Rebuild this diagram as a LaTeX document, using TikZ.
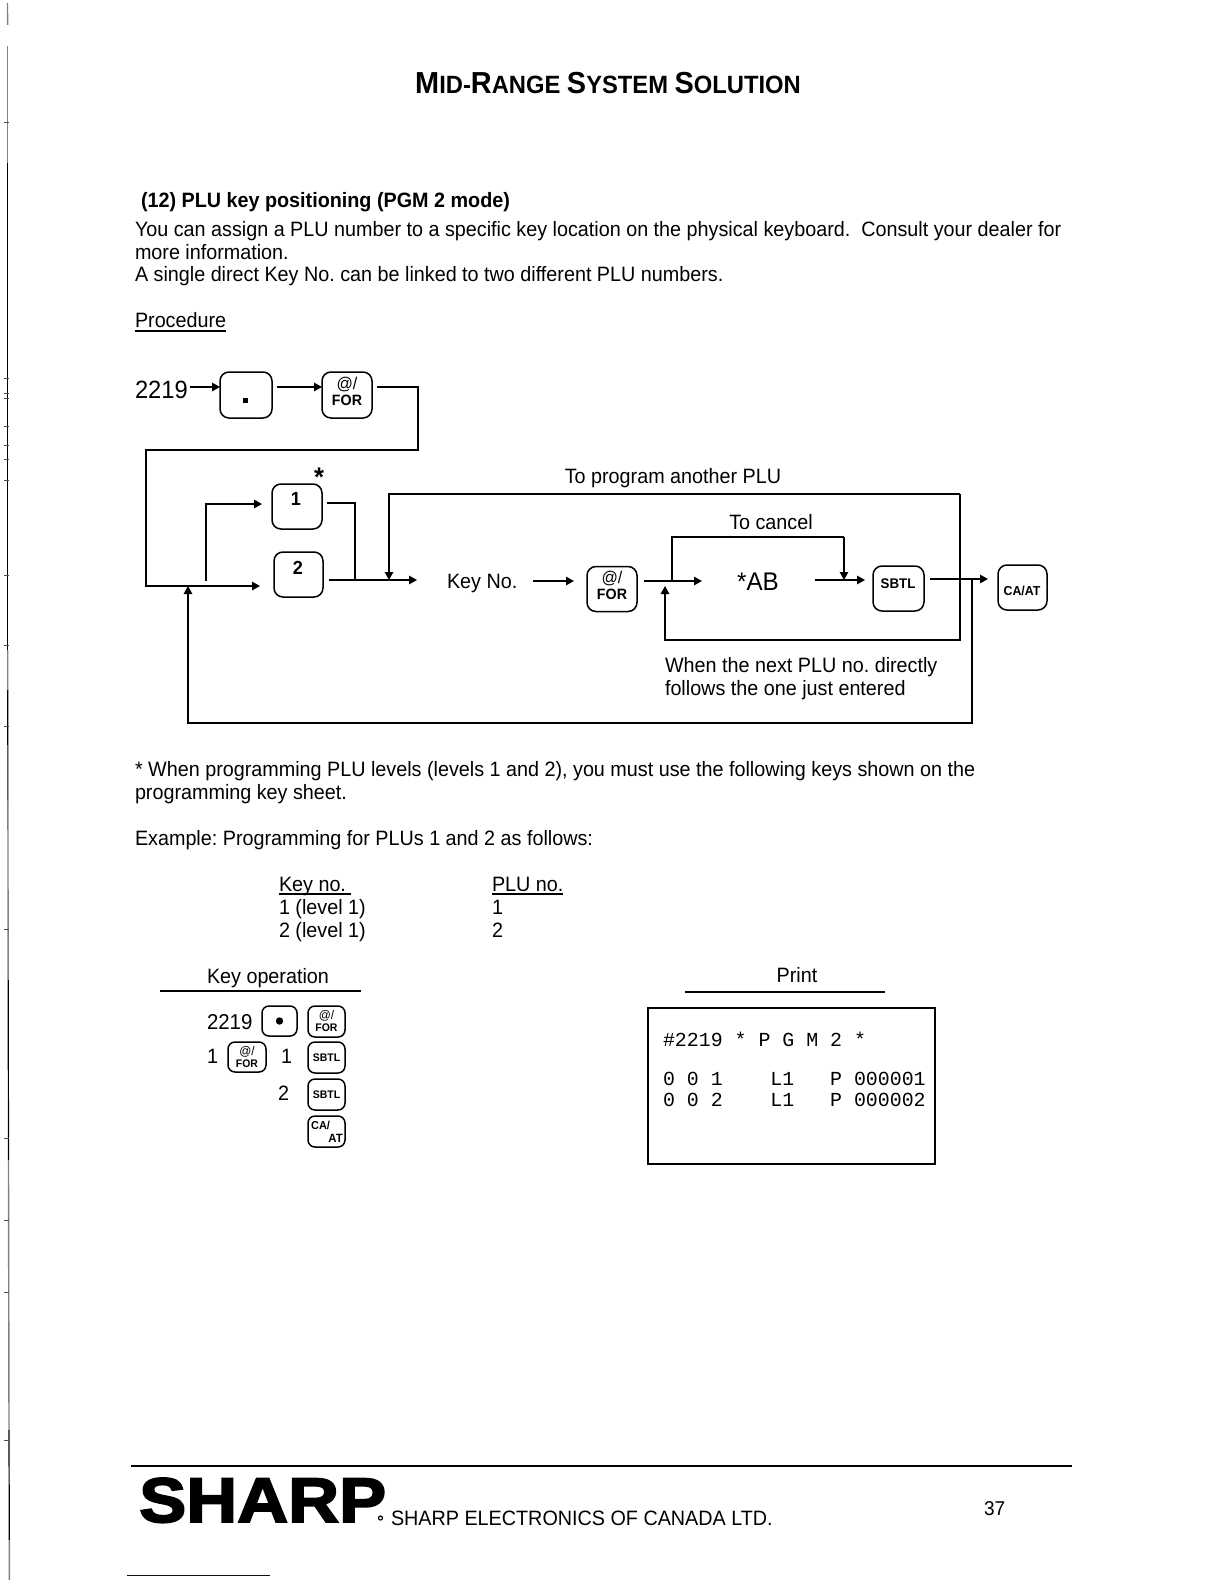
\documentclass[tikz,border=0pt]{standalone}
\usepackage{fontspec}
\setmainfont[FakeStretch=0.95]{Liberation Sans}
\newfontfamily\printfont{Liberation Mono}
\newfontfamily\logofont[FakeBold=3,FakeStretch=1.12]{Liberation Sans Bold}
\usetikzlibrary{arrows.meta}
\frenchspacing
\newcommand{\fs}[1]{\fontsize{#1}{#1}\selectfont}
\tikzset{
  x=1pt,y=-1pt,
  body/.style={anchor=base west,inner sep=0pt,outer sep=0pt,font=\fs{20.8}},
  mid/.style={anchor=base,inner sep=0pt,outer sep=0pt,font=\fs{20.8}},
  printline/.style={anchor=base west,inner sep=0pt,outer sep=0pt,font=\printfont\fs{19.9}},
  keycap/.style={draw=black,line width=1.5pt,rounded corners=9pt,minimum width=#1,inner sep=0pt,outer sep=0pt},
  keycap/.default=50pt,
  smallcap/.style={draw=black,line width=1.5pt,rounded corners=7pt,inner sep=0pt,outer sep=0pt},
  keylab/.style={inner sep=0pt,outer sep=0pt,font=\bfseries\fs{#1}},
  keylab/.default=15,
  wire/.style={draw=black,line width=1.4pt},
  arr/.style={wire,-{Triangle[length=8pt,width=8.5pt]}},
  rule/.style={draw=black,line width=1.6pt},
  scanblack/.style={draw=black,line width=1.2pt},
  scangrey/.style={draw=black!50,line width=1.4pt}
}
\begin{document}
\begin{tikzpicture}
\useasboundingbox (0,0) rectangle (1224,1584);
\fill[white] (0,0) rectangle (1224,1584);
% scanned left edge
\draw[scangrey] (7.5,3) -- (7.6,25);
\draw[scangrey] (7.7,46) -- (7.7,163);
\draw[scanblack] (7.7,163) -- (7.7,650);
\draw[scangrey] (7.7,650) -- (7.8,690);
\draw[scanblack] (7.8,690) -- (7.9,800);
\draw[scangrey] (7.9,800) -- (8.2,980);
\draw[scanblack] (8.2,980) -- (8.5,1160);
\draw[scangrey] (8.5,1160) -- (9,1430);
\draw[scanblack] (9,1430) -- (9.3,1540);
\draw[scangrey] (9.3,1540) -- (9.4,1580);
\foreach \ty in {122,378,393,398,426,445,459,480,575,645,726,929,1138,1220,1292,1440} \draw[black!70,line width=.8pt] (4,\ty) -- (8.5,\ty);
% page texts
\node[anchor=base west,inner sep=0pt,font=\bfseries\fs{25}] (title) at (415,94) {\fs{30.4}M\fs{25}ID-\fs{30.4}R\fs{25}ANGE \fs{30.4}S\fs{25}YSTEM \fs{30.4}S\fs{25}OLUTION};
\node[body,font=\bfseries\fs{20.8}] (heading) at (141,207) {(12) PLU key positioning (PGM 2 mode)};
\node[body] (p1) at (135,236) {You can assign a PLU number to a specific key location on the physical keyboard.\ \ Consult your dealer for};
\node[body] (p2) at (135,259) {more information.};
\node[body] (p3) at (135,281) {A single direct Key No. can be linked to two different PLU numbers.};
\node[body] (proc) at (135,327) {Procedure};
\draw[black,line width=1.2pt] (proc.base west |- 0,331) -- (proc.base east |- 0,331);
% diagram nodes
\node[body,font=\fs{25}] (n2219) at (135,398) {2219};
\node[keycap=52pt,minimum height=46pt] (kdot) at (246,395) {};
\fill[black] (242.5,397.5) rectangle (247.5,402.5);
\node[keycap=50pt,minimum height=46pt] (kfor) at (347,395) {};
\node[keylab=15,font=\fs{17}] (kforA) at (347,385) {@/};
\node[keylab=15] (kforB) at (347,400) {FOR};
\node[mid,font=\bfseries\fs{27}] (star) at (319,486) {*};
\node[keycap=50pt,minimum height=45pt] (kone) at (297,506.5) {};
\node[keylab=19] (koneT) at (296,499) {1};
\node[keycap=49pt,minimum height=45pt] (ktwo) at (298.5,574.5) {};
\node[keylab=19] (ktwoT) at (298,568) {2};
\node[mid] (topl) at (673,483) {To program another PLU};
\node[mid] (cancel) at (771,529) {To cancel};
\node[body] (keyno) at (447,588) {Key No.};
\node[keycap=50pt,minimum height=45pt] (kfor2) at (612,589) {};
\node[keylab=15,font=\fs{17}] (kfor2A) at (612,579) {@/};
\node[keylab=15] (kfor2B) at (612,594) {FOR};
\node[mid,font=\fs{25.5}] (ab) at (758,590) {*AB};
\node[keycap=51pt,minimum height=45pt] (ksbtl) at (898.5,588.5) {};
\node[keylab=14] (ksbtlT) at (898,584) {SBTL};
\node[keycap=49pt,minimum height=45pt] (kca) at (1022.5,587.5) {};
\node[keylab=13] (kcaT) at (1022,591) {CA/AT};
\node[body] (w1) at (665,672) {When the next PLU no. directly};
\node[body] (w2) at (665,695) {follows the one just entered};
% diagram connectors
\coordinate (dl1) at (146,450);
\coordinate (dr1) at (418,450);
\coordinate (jback) at (188,586);
\coordinate (jup) at (206,586);
\coordinate (jm) at (355,580);
\coordinate (jt) at (389,580);
\coordinate (tl) at (389,494);
\coordinate (tr) at (960,494);
\coordinate (br) at (960,640);
\coordinate (bl) at (665,640);
\coordinate (j2) at (665,586);
\coordinate (ja) at (672,581);
\coordinate (caa) at (672,537);
\coordinate (cab) at (844,537);
\coordinate (cac) at (844,580);
\coordinate (jr) at (972,579);
\coordinate (lr) at (972,723);
\coordinate (ll) at (188,723);
\coordinate (keyend) at (417,580);
\coordinate (abend) at (815,580);
\coordinate (abstart) at (702,581);
\draw[arr] (n2219.base east |- 0,387) ++(2,0) -- (kdot.west |- 0,387);
\draw[arr] ([xshift=5pt]kdot.east |- 0,387) -- (kfor.west |- 0,387);
\draw[arr] ([xshift=5pt]kfor.east |- 0,387) -| (dr1) -- (dl1) |- ([xshift=-14pt]ktwo.west |- jback);
\draw[arr] (jup |- 0,581) |- ([xshift=-10pt]kone.west |- 0,504);
\draw[wire] ([xshift=5pt]kone.east |- 0,503) -| (jm);
\draw[arr] ([xshift=6pt]ktwo.east |- 0,580) -- (keyend);
\draw[arr] (tr) -- (tl) -- (jt);
\draw[arr] ([xshift=16pt]keyno.base east |- 0,581) -- ([xshift=-13pt]kfor2.west |- 0,581);
\draw[arr] ([xshift=7pt]kfor2.east |- 0,581) -- (abstart);
\draw[wire] (ja) -- (caa) -- (cab);
\draw[arr] (cab) -- (cac);
\draw[arr] (abend) -- ([xshift=-8pt]ksbtl.west |- abend);
\draw[arr] (tr) -- (br) -- (bl) -- (j2);
\draw[arr] ([xshift=6pt]ksbtl.east |- 0,579) -- ([xshift=-10pt]kca.west |- 0,579);
\draw[arr] (jr) -- (lr) -- (ll) -- (jback);
% lower text
\node[body] (star2) at (135,776) {* When programming PLU levels (levels 1 and 2), you must use the following keys shown on the};
\node[body] (star3) at (135,799) {programming key sheet.};
\node[body] (ex) at (135,845) {Example: Programming for PLUs 1 and 2 as follows:};
\node[body] (th1) at (279,891) {Key no.};
\node[body] (th2) at (492,891) {PLU no.};
\draw[black,line width=1.2pt] (th1.base west |- 0,894) -- ([xshift=5pt]th1.base east |- 0,894);
\draw[black,line width=1.2pt] (th2.base west |- 0,894) -- (th2.base east |- 0,894);
\node[body] (r11) at (279,914) {1 (level 1)};
\node[body] (r12) at (492,914) {1};
\node[body] (r21) at (279,937) {2 (level 1)};
\node[body] (r22) at (492,937) {2};
% key operation
\node[body] (kop) at (207,983) {Key operation};
\draw[rule] (160,991) -- (361,991);
\node[body,font=\fs{21.5}] (s1) at (207,1029) {2219};
\node[smallcap,minimum width=35pt,minimum height=30pt] (kd2) at (279.5,1021) {};
\fill[black] (kd2.center) circle (3.7pt);
\node[smallcap,minimum width=37pt,minimum height=31pt] (kf3) at (326.5,1021.5) {};
\node[inner sep=0pt,font=\fs{12.5}] (kf3A) at (326.5,1016) {@/};
\node[keylab=11] (kf3B) at (326.5,1028) {FOR};
\node[body] (s2) at (207,1063) {1};
\node[smallcap,minimum width=38pt,minimum height=30pt] (kf4) at (247,1057) {};
\node[inner sep=0pt,font=\fs{12.5}] (kf4A) at (247,1052) {@/};
\node[keylab=11] (kf4B) at (247,1064) {FOR};
\node[body] (s3) at (281,1063) {1};
\node[smallcap,minimum width=37pt,minimum height=31pt] (ks1) at (326.5,1057.5) {};
\node[keylab=11] (ks1T) at (326.5,1058) {SBTL};
\node[body] (s4) at (278,1100) {2};
\node[smallcap,minimum width=37pt,minimum height=31pt] (ks2) at (326.5,1094.5) {};
\node[keylab=11] (ks2T) at (326.5,1095) {SBTL};
\node[smallcap,minimum width=37pt,minimum height=31pt] (kc2) at (326.5,1131.5) {};
\node[anchor=west,inner sep=0pt,font=\bfseries\fs{11.5}] (kc2A) at (311,1125) {CA/};
\node[anchor=east,inner sep=0pt,font=\bfseries\fs{12}] (kc2B) at (343,1138) {AT};
% print
\node[mid] (printt) at (797,982) {Print};
\draw[rule] (685,992) -- (885,992);
\node[draw=black,line width=1.6pt,minimum width=287pt,minimum height=156pt,inner sep=0pt] (pbox) at (791.5,1086) {};
\node[printline] (pl1) at (663,1046) {\#2219~*~P~G~M~2~*};
\node[printline] (pl2) at (663,1085) {0~0~1~~~~L1~~~P~000001};
\node[printline] (pl3) at (663,1106) {0~0~2~~~~L1~~~P~000002};
% footer
\draw[black,line width=2pt] (131,1466) -- (1072,1466);
\node[anchor=base west,inner sep=0pt,font=\logofont\fs{63}] (logo) at (139,1522) {SHARP};
\draw[black,line width=1.2pt] (380.5,1518) circle (2pt);
\node[body,font=\fs{20.8}] (comp) at (391,1525) {SHARP ELECTRONICS OF CANADA LTD.};
\node[body,font=\fs{20}] (pg) at (984,1515) {37};
\draw[blue!50!black,line width=1pt] (127,1575) -- (270,1575);
\end{tikzpicture}
\end{document}
